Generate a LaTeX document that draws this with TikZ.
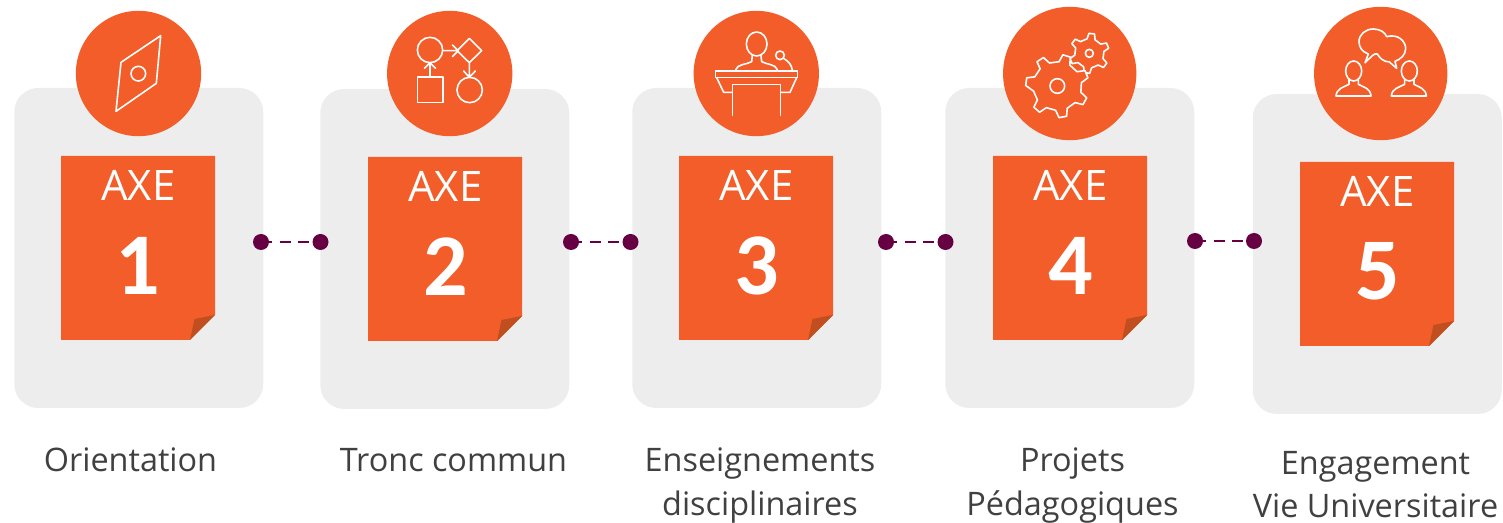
\documentclass[tikz,border=0pt]{standalone}
\usepackage{fontspec}
\setmainfont{Open Sans}
\newfontfamily\digitfont{Carlito}
\definecolor{orangeaxe}{HTML}{F25D29}
\definecolor{foldc}{HTML}{C04E1E}
\definecolor{panelc}{HTML}{EDEDED}
\definecolor{plum}{HTML}{660042}
\definecolor{labelc}{HTML}{404040}
\tikzset{
  panel/.style={fill=panelc,draw=none,rounded corners=18pt,minimum width=186.75pt,minimum height=240pt,inner sep=0pt},
  disc/.style={circle,fill=orangeaxe,draw=none,inner sep=0pt},
  sheet/.style={fill=orangeaxe,draw=none},
  foldp/.style={fill=foldc,draw=none},
  axetxt/.style={text=white,font=\fontsize{31.5pt}{36pt}\selectfont,inner sep=0pt},
  numtxt/.style={text=white,font=\digitfont\fontsize{66pt}{70pt}\selectfont\bfseries,inner sep=0pt},
  lbl/.style={text=labelc,font=\fontsize{24.3pt}{30pt}\selectfont,inner sep=0pt,anchor=base},
  dotn/.style={circle,fill=plum,draw=none,minimum size=12pt,inner sep=0pt},
  link/.style={draw=plum,line width=2.2pt,dash pattern=on 8.25pt off 5.7pt,dash phase=6pt},
  icon/.style={draw=white,line width=1.2pt,line join=round,line cap=round},
  zoomed/.style={x=0.25pt,y=-0.25pt}
}
% #1 id, #2 panel left, #3 panel top, #4 number, #5 sheet left (abs), #6 sheet top
\newcommand{\axecard}[6]{%
  \node[panel] (panel#1) at (#2+124.75,#3+160) {};
  \fill[sheet] (#5,#6) -- (#5+154,#6) -- (#5+154,#6+159) -- (#5+129,#6+184) -- (#5,#6+184) -- cycle;
  \fill[foldp] (#5+154,#6+159) -- (#5+133.5,#6+163) -- (#5+129,#6+184) -- cycle;
  \node[axetxt] (axe#1) at (#5+77.3,#6+29.2) {AXE};
  \node[numtxt] (num#1) at (#5+77.3,#6+109.5) {#4};
}
\begin{document}
\begin{tikzpicture}[x=0.75pt,y=-0.75pt]
\useasboundingbox (0,0) rectangle (1503,523);
\axecard{1}{14}{88}{1}{61}{156}
\axecard{2}{320}{89}{2}{368}{157}
\axecard{3}{632}{88}{3}{679}{156}
\axecard{4}{945}{88}{4}{993}{156}
\axecard{5}{1252.5}{94}{5}{1300}{162}
\node[disc,minimum size=94pt] (disc1) at (138.5,73.5) {};
\node[disc,minimum size=94pt] (disc2) at (449.7,73.5) {};
\node[disc,minimum size=94pt] (disc3) at (756.3,73.5) {};
\node[disc,minimum size=100pt] (disc4) at (1069.7,73.5) {};
\node[disc,minimum size=100pt] (disc5) at (1380.7,73.5) {};
% compass
\begin{scope}[shift={(0,0)},zoomed]
\draw[icon] (482,107) -- (363,187) -- (348,334) -- (469,250) -- cycle;
\draw[icon] (415,221) circle[radius=22];
\end{scope}
% flow chart
\begin{scope}[shift={(370,0)},zoomed]
\draw[icon] (180,150) circle[radius=38];
\draw[icon] (143,231) rectangle (219,307);
\draw[icon] (180,231) -- (180,188) (163,205) -- (180,188) -- (197,205);
\draw[icon] (219,152) -- (265,152) (247,135) -- (265,152) -- (247,170);
\draw[icon] (298,115) -- (335,152) -- (298,188) -- (261,152) -- cycle;
\draw[icon] (298,188) -- (298,232) (281,213) -- (298,232) -- (316,213);
\draw[icon] (299,270) circle[radius=38];
\end{scope}
% speaker
\begin{scope}[shift={(680,0)},zoomed]
\draw[icon] (230,132) ellipse[x radius=31,y radius=36];
\draw[icon] (167,209) .. controls (172,192) and (200,194) .. (215,185) -- (217,165);
\draw[icon] (292,209) .. controls (287,192) and (260,194) .. (245,185) -- (243,167);
\draw[icon] (300,166) circle[radius=13];
\draw[icon] (312,176) .. controls (328,185) and (335,197) .. (337,211);
\draw[icon] (107,213) rectangle (352,233);
\draw[icon] (110,233) -- (131,277) -- (157,277);
\draw[icon] (350,233) -- (330,277) -- (302,277);
\draw[icon] (157,346) -- (157,254) -- (301,254) -- (301,346);
\end{scope}
% gears
\begin{scope}[shift={(990,0)},zoomed]
\draw[icon,fill=orangeaxe] ({298+44*cos(-261)},{160-44*sin(-261)})
  \foreach \a in {83,23,-37,-97,-157,-217} {
    -- ({298+60*cos(\a+8)},{160-60*sin(\a+8)})
    -- ({298+60*cos(\a-8)},{160-60*sin(\a-8)})
    -- ({298+44*cos(\a-16)},{160-44*sin(\a-16)})
    -- ({298+44*cos(\a-44)},{160-44*sin(\a-44)})
  } -- cycle;
\draw[icon] (298,160) circle[radius=12];
\draw[icon,fill=orangeaxe] ({202+73*cos(-168)},{258-73*sin(-168)})
  \foreach \a in {172,123,73,22,-29,-80,-131} {
    -- ({202+95*cos(\a+7)},{258-95*sin(\a+7)})
    -- ({202+95*cos(\a-7)},{258-95*sin(\a-7)})
    -- ({202+73*cos(\a-14)},{258-73*sin(\a-14)})
    -- ({202+73*cos(\a-37)},{258-73*sin(\a-37)})
  } -- cycle;
\draw[icon] (202,258) circle[radius=22];
\end{scope}
% people
\begin{scope}[shift={(1300,0)},zoomed]
\draw[icon] (195,188) -- (205,162) .. controls (185,155) and (177,140) .. (177,125)
  .. controls (177,103) and (197,87) .. (220,87)
  .. controls (240,87) and (255,97) .. (260,110)
  .. controls (295,100) and (317,125) .. (317,145)
  .. controls (317,165) and (302,178) .. (285,184)
  -- (290,205) -- (268,186)
  .. controls (250,185) and (240,175) .. (232,162)
  .. controls (222,158) and (215,170) .. (195,188) -- cycle;
\draw[icon] (161,213) ellipse[x radius=24,y radius=30];
\draw[icon] (147,238) -- (147,253) .. controls (130,262) and (110,265) .. (108,288) -- (213,288)
  .. controls (211,265) and (192,262) .. (175,253) -- (175,238);
\draw[icon] (328,213) ellipse[x radius=24,y radius=30];
\draw[icon] (314,238) -- (314,253) .. controls (297,262) and (276,265) .. (274,288) -- (379,288)
  .. controls (377,265) and (358,262) .. (342,253) -- (342,238);
\end{scope}
% connectors
\foreach \i/\xa/\xb/\yy in {1/261/320.5/242,2/571/630.5/242,3/886/945.5/242,4/1195/1254/241}{
  \node[dotn] (dotL\i) at (\xa,\yy) {};
  \node[dotn] (dotR\i) at (\xb,\yy) {};
  \draw[link] (dotL\i) -- (dotR\i);
}
% labels
\node[lbl] (l1) at (130.5,472) {Orientation};
\node[lbl] (l2) at (453.5,472) {Tronc commun};
\node[lbl] (l3a) at (760,472) {Enseignements};
\node[lbl] (l3b) at (760,516) {disciplinaires};
\node[lbl] (l4a) at (1072.5,472) {Projets};
\node[lbl] (l4b) at (1072.5,516) {Pédagogiques};
\node[lbl] (l5a) at (1375.5,475) {Engagement};
\node[lbl] (l5b) at (1375.5,518) {Vie Universitaire};
\end{tikzpicture}
\end{document}
